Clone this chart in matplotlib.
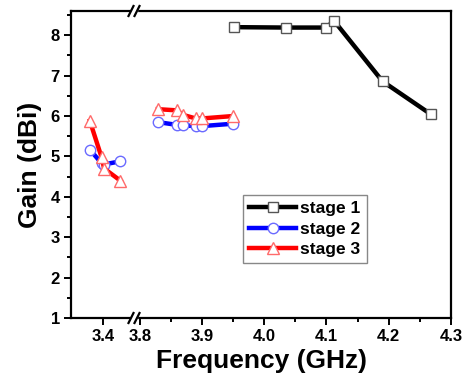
import matplotlib
matplotlib.use("Agg")
import matplotlib.pyplot as plt
from matplotlib.lines import Line2D
from matplotlib.patches import Rectangle
from matplotlib.ticker import MultipleLocator, FixedLocator

plt.rcParams['font.family'] = ['Liberation Sans', 'DejaVu Sans']
plt.rcParams['font.weight'] = 'bold'

# data (frequency in GHz, gain in dBi)
freq_s1 = [3.952, 4.035, 4.100, 4.112, 4.190, 4.268]
gain_s1 = [8.20, 8.19, 8.19, 8.36, 6.86, 6.04]

freq_s2_lo = [3.358, 3.394, 3.401, 3.452]
gain_s2_lo = [5.17, 4.83, 4.80, 4.88]
freq_s2_hi = [3.829, 3.860, 3.869, 3.890, 3.900, 3.950]
gain_s2_hi = [5.85, 5.78, 5.77, 5.75, 5.75, 5.81]

freq_s3_lo = [3.358, 3.394, 3.402, 3.452]
gain_s3_lo = [5.88, 4.98, 4.70, 4.40]
freq_s3_hi = [3.829, 3.860, 3.869, 3.890, 3.900, 3.950]
gain_s3_hi = [6.17, 6.14, 6.03, 5.94, 5.94, 6.00]

W, H = 473, 377

fig, (axl, axr) = plt.subplots(1, 2, sharey=True, figsize=(W / 100, H / 100), dpi=100,
                               gridspec_kw={"width_ratios": [65, 315], "wspace": 0})
fig.subplots_adjust(left=71 / W, right=451 / W, top=1 - 11 / H, bottom=1 - 318 / H)

s1 = dict(color="black", lw=3.2, marker="s", ms=6.5, mfc="white", mec="#555555", mew=1)
s2 = dict(color="#0000ff", lw=3.2, marker="o", ms=7.5, mfc="white", mec="#6a6aff", mew=1)
s3 = dict(color="#ff0000", lw=3.2, marker="^", ms=8.5, mfc="white", mec="#ff6a6a", mew=1)

axl.plot(freq_s2_lo, gain_s2_lo, **s2)
axl.plot(freq_s3_lo, gain_s3_lo, **s3)

axr.plot(freq_s1, gain_s1, label="stage 1", **s1)
axr.plot(freq_s2_hi, gain_s2_hi, label="stage 2", **s2)
axr.plot(freq_s3_hi, gain_s3_hi, label="stage 3", **s3)

axl.set_xlim(3.3, 3.5)
axr.set_xlim(3.794, 4.3)
axl.set_ylim(1, 8.6)

axl.xaxis.set_major_locator(FixedLocator([3.4]))
axl.xaxis.set_minor_locator(FixedLocator([]))
axr.xaxis.set_major_locator(FixedLocator([3.8, 3.9, 4.0, 4.1, 4.2, 4.3]))
axr.xaxis.set_minor_locator(FixedLocator([3.85, 3.95, 4.05, 4.15, 4.25]))
axl.yaxis.set_major_locator(MultipleLocator(1))
axl.yaxis.set_minor_locator(MultipleLocator(0.5))

for ax in (axl, axr):
    for sp in ax.spines.values():
        sp.set_linewidth(1.6)
    ax.tick_params(which="major", direction="out", length=5, width=1.4, labelsize=12, pad=3)
    ax.tick_params(which="minor", direction="out", length=3, width=1.4)
    ax.xaxis.set_major_formatter(plt.FuncFormatter(lambda v, p: f"{v:.1f}"))

axl.spines["right"].set_visible(False)
axr.spines["left"].set_visible(False)
axr.tick_params(axis="y", which="both", left=False, right=False, labelleft=False)

axl.set_ylabel("Gain (dBi)", fontsize=19, fontweight="bold", labelpad=6)
fig.text((71 + 451) / 2 / W, 1 - 361 / H, "Frequency (GHz)", ha="center", va="center",
         fontsize=19, fontweight="bold")

# axis break marks
for yp in (11, 318):
    fig.add_artist(Rectangle(((131) / W, 1 - (yp + 3) / H), 6 / W, 6 / H,
                             transform=fig.transFigure, color="white", zorder=5))
    for xc in (131, 137):
        fig.add_artist(Line2D([(xc - 2.5) / W, (xc + 2.5) / W],
                              [1 - (yp + 5) / H, 1 - (yp - 5) / H],
                              transform=fig.transFigure, color="black", lw=1.6, zorder=6))

leg = axr.legend(loc="upper left", bbox_to_anchor=(243 / W, 1 - 195 / H),
                 bbox_transform=fig.transFigure, borderaxespad=0, fancybox=False,
                 edgecolor="#888888", fontsize=12.5, handlelength=2.7, handletextpad=0.25,
                 labelspacing=0.3, borderpad=0.35, framealpha=1)
leg.get_frame().set_linewidth(1)
for t in leg.get_texts():
    t.set_fontweight("bold")

fig.savefig("out.png", dpi=100)
